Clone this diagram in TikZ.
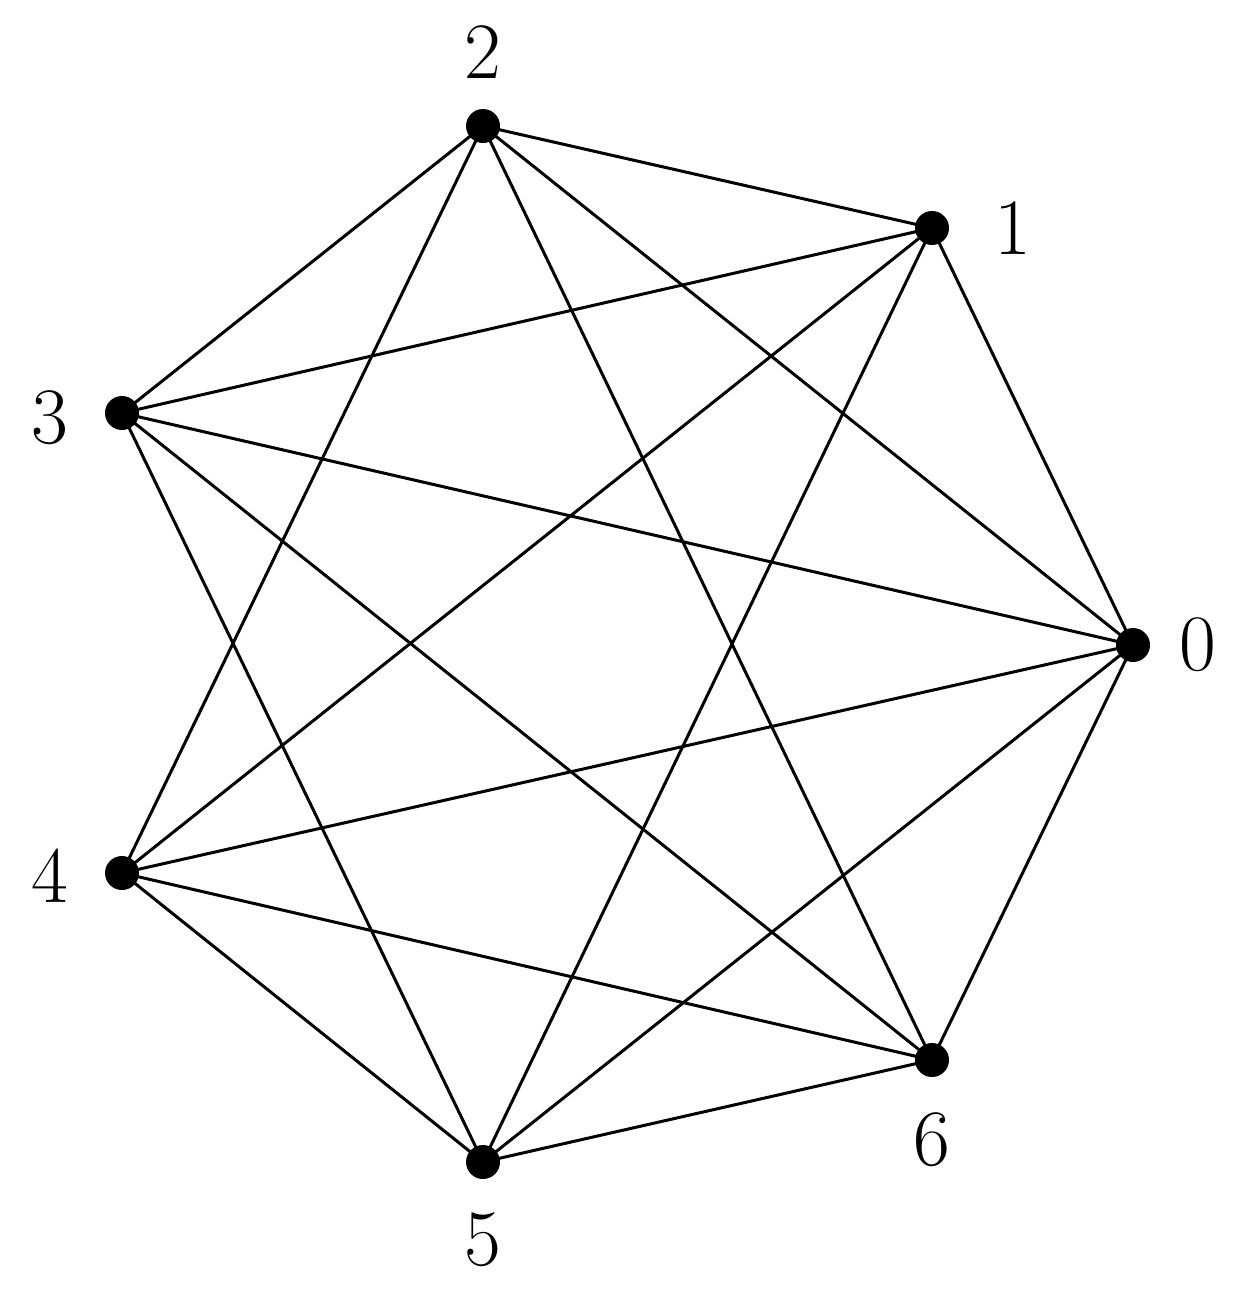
\documentclass[tikz,border=0pt]{standalone}
\begin{document}
\begin{tikzpicture}[x=1pt,y=-1pt,
  dot/.style={circle,fill=black,inner sep=0pt,minimum size=34pt},
  lab/.style={font=\fontsize{80}{80}\selectfont},
  edge/.style={line width=3pt}]
\useasboundingbox (0,0) rectangle (1244,1291);
\node[dot] (v0) at (1133,645) {};
\node[dot] (v1) at (932,228) {};
\node[dot] (v2) at (483,126) {};
\node[dot] (v3) at (122,413) {};
\node[dot] (v4) at (122,873) {};
\node[dot] (v5) at (483,1162) {};
\node[dot] (v6) at (932,1060) {};
\node[lab] (l0) at (1198,645) {0};
\node[lab] (l1) at (1013,228) {1};
\node[lab] (l2) at (483,52) {2};
\node[lab] (l3) at (50,418) {3};
\node[lab] (l4) at (50,876) {4};
\node[lab] (l5) at (483,1240) {5};
\node[lab] (l6) at (932,1140) {6};
\foreach \a/\b in {0/1,0/2,0/3,0/4,0/5,0/6,1/2,1/3,1/4,1/5,2/3,2/4,2/6,3/5,3/6,4/5,4/6,5/6}
  \draw[edge] (v\a.center) -- (v\b.center);
\end{tikzpicture}
\end{document}
